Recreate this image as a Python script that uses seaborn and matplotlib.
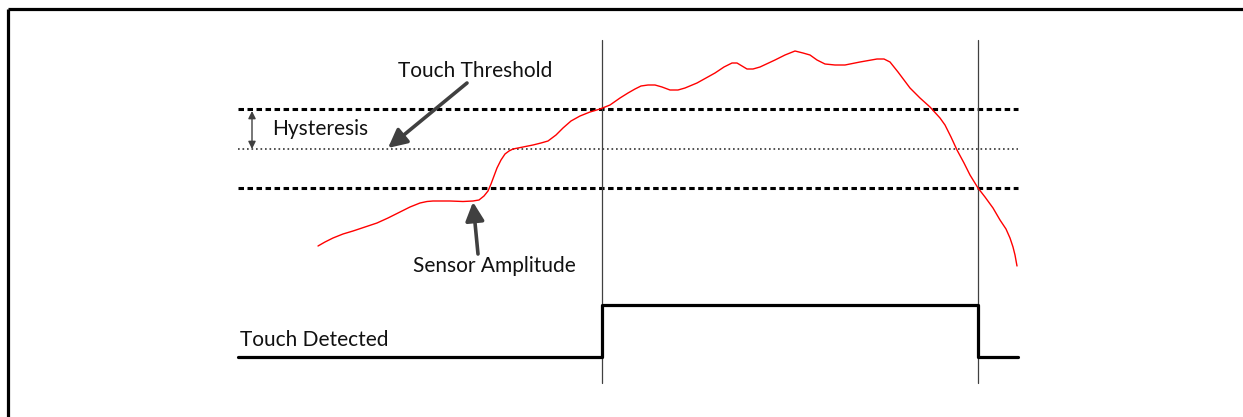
import matplotlib
matplotlib.use("Agg")
import matplotlib.pyplot as plt
import seaborn as sns
import pandas as pd

sns.set_theme(style="white")
plt.rcParams['font.family'] = ['Lato', 'DejaVu Sans']

# ---- data (schematic, in picture units: time to the right, amplitude downward) ----
sensor_t = [318, 325, 333, 343, 353, 365, 377, 388, 400, 410, 420, 427, 433, 450, 463, 473,
            479, 484, 488, 491, 494, 497, 501, 505, 509, 513, 523, 533, 541, 548, 556, 563,
            571, 580, 590, 600, 610, 620, 628, 635, 641, 648, 655, 662, 670, 678, 685, 697,
            706, 715, 724, 732, 737, 742, 747, 753, 760, 775, 785, 795, 803, 810, 817, 825,
            835, 845, 860, 877, 884, 890, 898, 910, 920, 930, 940, 945, 951, 957, 964, 970,
            978, 985, 993, 1000, 1006, 1010, 1013, 1015, 1017]
sensor_amp = [246, 242, 238, 234, 231, 227, 223, 218, 212, 207, 203, 201.5, 201, 201, 201.5, 201,
              200, 196, 191, 184, 176, 168, 160, 154, 151, 149, 147, 145, 143, 141, 135, 128,
              121, 116, 112, 109, 105, 98, 93, 89, 86, 85, 85, 87, 90, 90, 88, 83,
              78, 73, 67, 63, 63, 66, 69, 69, 67, 60, 55, 51, 53, 55, 60, 64,
              65, 65, 62, 59, 59, 62, 72, 88, 98, 107, 118, 125, 137, 150, 163, 175,
              188, 197, 208, 220, 229, 238, 247, 255, 266]

threshold_levels = [109, 149, 188]          # touch threshold, hysteresis mid, release threshold
threshold_styles = ['dashed', 'dotted', 'dashed']
line_start, line_end = 238, 1018

touch_t = [238, 602, 602, 978, 978, 1018]
touch_level = [357, 357, 305, 305, 357, 357]

event_times = [602, 978]
event_span = (40, 383)

labels = ["Touch Threshold", "Hysteresis", "Sensor Amplitude", "Touch Detected"]

fig = plt.figure(figsize=(12.43, 4.17), dpi=100)
ax = fig.add_axes([0, 0, 1, 1])

# frame (top and left edge)
ax.plot([8.5, 1243], [9, 9], color='black', lw=2.3, solid_capstyle='butt')
ax.plot([8.5, 8.5], [9, 417], color='black', lw=2.3, solid_capstyle='butt')

# thresholds
for lvl, st in zip(threshold_levels, threshold_styles):
    if st == 'dashed':
        ax.plot([line_start, line_end], [lvl, lvl], color='black', lw=2.2,
                linestyle=(0, (1.8, 1.15)))
    else:
        ax.plot([line_start, line_end], [lvl, lvl], color='#333333', lw=1.2,
                linestyle=(0, (1.0, 1.7)))

# event lines
for t in event_times:
    ax.plot([t, t], list(event_span), color='#404040', lw=0.9)

# sensor curve
df = pd.DataFrame({'t': sensor_t, 'amp': sensor_amp})
sns.lineplot(data=df, x='t', y='amp', sort=False, color='#ff0000', lw=1.0, ax=ax, estimator=None)

# touch detected
dd = pd.DataFrame({'t': touch_t, 'lvl': touch_level})
sns.lineplot(data=dd, x='t', y='lvl', sort=False, color='black', lw=2.3, ax=ax, estimator=None)
ax.set_xlim(0, 1243)
ax.set_ylim(417, 0)
ax.axis('off')

fs = 15
txt = dict(fontsize=fs, color='#111111', va='center', ha='left')
ax.text(398, 71, labels[0], **txt)
ax.text(272, 129, labels[1], **txt)
ax.text(413, 266, labels[2], **txt)
ax.text(240, 340, labels[3], **txt)

arrow_col = '#404040'
ax.annotate('', xy=(388, 148), xytext=(467, 83),
            arrowprops=dict(arrowstyle='-|>', color=arrow_col, lw=2.6,
                            mutation_scale=28, shrinkA=0, shrinkB=0))
ax.annotate('', xy=(473, 202), xytext=(478, 254),
            arrowprops=dict(arrowstyle='-|>', color=arrow_col, lw=2.6,
                            mutation_scale=28, shrinkA=0, shrinkB=0))
ax.annotate('', xy=(252, 111), xytext=(252, 149),
            arrowprops=dict(arrowstyle='<|-|>', color=arrow_col, lw=1.0,
                            mutation_scale=11, shrinkA=0, shrinkB=0))

fig.savefig('out.png', dpi=100)
